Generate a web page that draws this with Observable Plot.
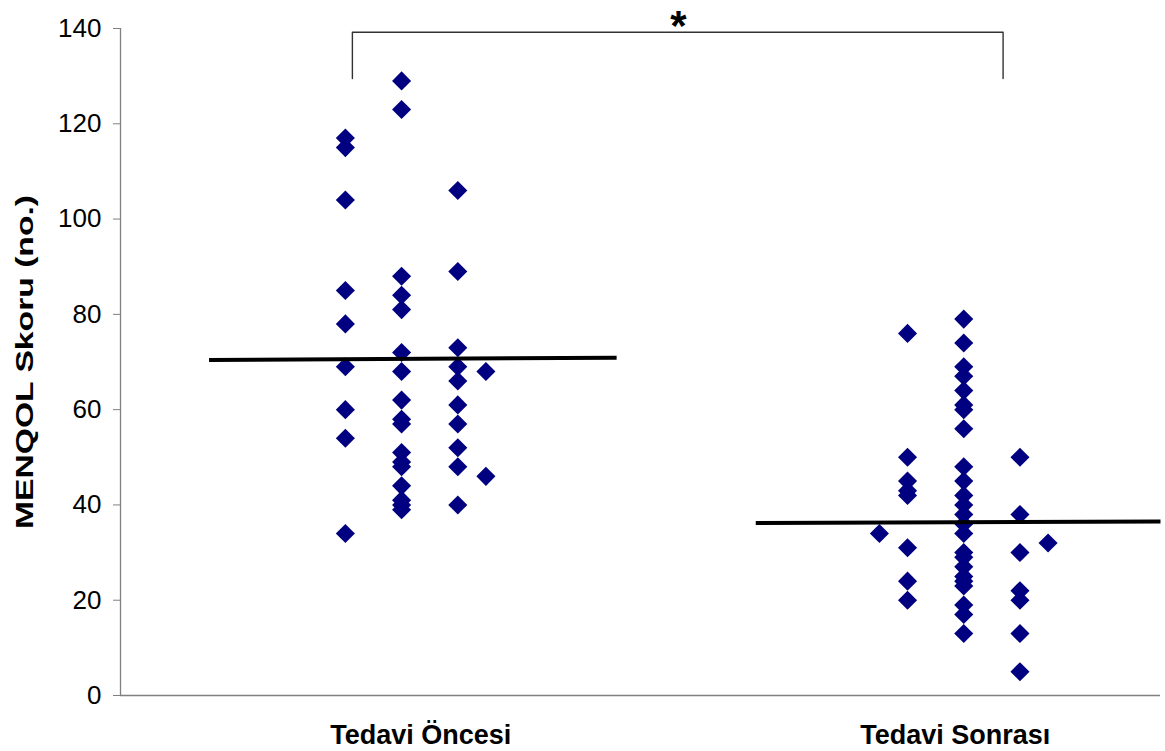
<!DOCTYPE html>
<html>
<head>
<meta charset="utf-8">
<script src="https://cdn.jsdelivr.net/npm/d3@7"></script>
<script src="https://cdn.jsdelivr.net/npm/@observablehq/plot@0.6"></script>
<style>
  html, body { margin: 0; padding: 0; background: #fff; }
</style>
</head>
<body>
<div id="chart"></div>
<script>
// Categories
const groups = ["Tedavi Öncesi", "Tedavi Sonrası"];
// Column x values (scatter x) for each group
const preX = [8, 10, 12, 13];
const postX = [27, 28, 30, 32, 33];
// MENQOL scores per column
const preScores = [
  [117, 115, 104, 85, 78, 69, 60, 54, 34],
  [129, 123, 88, 84, 81, 72, 68, 62, 58, 57, 51, 49, 48, 44, 41, 40, 39],
  [106, 89, 73, 69, 66, 61, 57, 52, 48, 40],
  [68, 46]
];
const postScores = [
  [34],
  [76, 50, 45, 43, 42, 31, 24, 20],
  [79, 74, 69, 67, 64, 61, 60, 56, 48, 45, 42, 40, 38, 36, 34, 30, 29, 27, 25, 24, 23, 19, 17, 13],
  [50, 38, 30, 22, 20, 13, 5],
  [32]
];
// Mean lines (x start/end, y start/end)
const preMeanX = [3.15, 17.65];
const preMeanY = [70.4, 70.9];
const postMeanX = [22.6, 37];
const postMeanY = [36.2, 36.5];
// Significance bracket
const bracketX = [8.25, 31.4];
const bracketY = [129.5, 139.2];
const starX = 19.85;
const starY = 140.4;
// Category label x positions
const labelX = [10.68, 29.7];
// Y ticks
const yTicks = [0, 20, 40, 60, 80, 100, 120, 140];

const points = [];
preScores.forEach((col, i) => col.forEach(v => points.push({x: preX[i], y: v, g: groups[0]})));
postScores.forEach((col, i) => col.forEach(v => points.push({x: postX[i], y: v, g: groups[1]})));

const meanLines = [
  {x1: preMeanX[0], x2: preMeanX[1], y1: preMeanY[0], y2: preMeanY[1]},
  {x1: postMeanX[0], x2: postMeanX[1], y1: postMeanY[0], y2: postMeanY[1]}
];
const bracket = [
  {x: bracketX[0], y: bracketY[0]},
  {x: bracketX[0], y: bracketY[1]},
  {x: bracketX[1], y: bracketY[1]},
  {x: bracketX[1], y: bracketY[0]}
];
const labels = groups.map((g, i) => ({g, x: labelX[i]}));

const chart = Plot.plot({
  width: 1165,
  height: 751,
  marginLeft: 120,
  marginRight: 5,
  marginTop: 28,
  marginBottom: 56,
  style: {fontFamily: "'Liberation Sans', Arial, sans-serif", fontSize: "26px", background: "#fff", color: "#000", overflow: "visible"},
  x: {domain: [0, 37], axis: null},
  y: {domain: [0, 140]},
  marks: [
    Plot.axisY({ticks: yTicks, tickSize: 7, tickPadding: 12, label: null, stroke: "#808080", fontSize: 26, color: "#000"}),
    Plot.ruleX([0], {stroke: "#808080", strokeWidth: 1.3}),
    Plot.ruleY([0], {x1: 0, x2: 37, stroke: "#808080", strokeWidth: 1.3}),
    Plot.dot(points, {x: "x", y: "y", symbol: "diamond2", r: 8.6, fill: "#000080", stroke: "none"}),
    Plot.link(meanLines, {x1: "x1", x2: "x2", y1: "y1", y2: "y2", stroke: "#000", strokeWidth: 4}),
    Plot.line(bracket, {x: "x", y: "y", stroke: "#333", strokeWidth: 1.4, clip: false}),
    Plot.text(["*"], {x: () => starX, y: () => starY, fontSize: 42, fontWeight: "bold", clip: false}),
    Plot.text(labels, {x: "x", y: () => 0, text: "g", dy: 40, fontSize: 27, fontWeight: "bold", clip: false}),
    Plot.text(["MENQOL Skoru (no.)"], {frameAnchor: "left", textAnchor: "middle", dx: -95, rotate: -90, fontSize: 24, fontWeight: "bold", clip: false, className: "ylab"})
  ]
});
document.getElementById("chart").appendChild(chart);
d3.select(chart).selectAll(".ylab text").attr("textLength", 334).attr("lengthAdjust", "spacingAndGlyphs");
</script>
</body>
</html>
